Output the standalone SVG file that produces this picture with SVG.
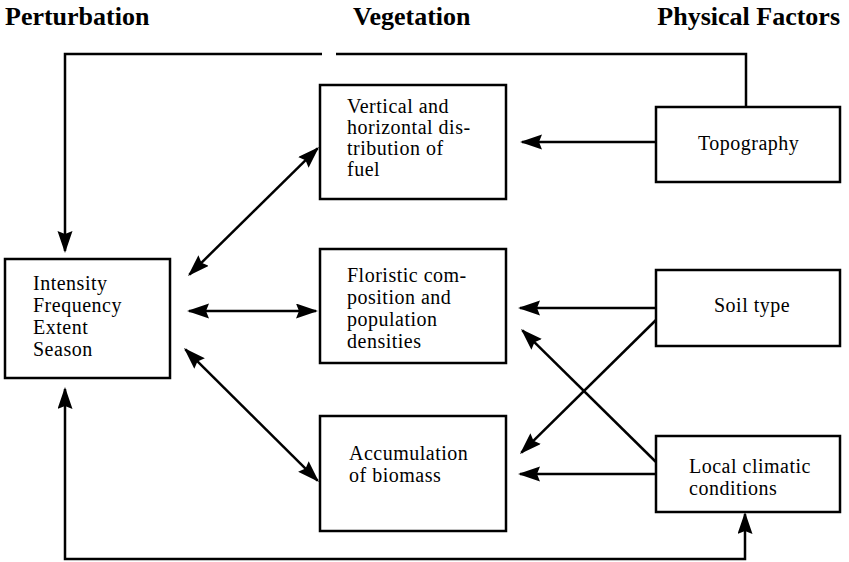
<svg xmlns="http://www.w3.org/2000/svg" width="849" height="562" viewBox="0 0 849 562">
<style>
.bg{fill:#fff}
.box{fill:#fff;stroke:#000;stroke-width:2.5}
.t{font-size:20px;letter-spacing:0.5px;fill:#000}
.h{font-size:26px;font-weight:bold;fill:#000}
.c{fill:none;stroke:#000;stroke-width:2.5}
</style>
<defs>
<marker id="ah" markerUnits="userSpaceOnUse" markerWidth="24" markerHeight="16" refX="20" refY="7.5" orient="auto-start-reverse">
<path d="M22,7.5 L0,0 L3,7.5 L0,15 z" fill="#000"/>
</marker>
</defs>
<rect class="bg" x="0" y="0" width="849" height="562"/>
<g id="titles" font-family="'Liberation Serif', 'Times New Roman', 'DejaVu Serif', serif">
<text class="h" x="5" y="25">Perturbation</text>
<text class="h" x="353" y="25">Vegetation</text>
<text class="h" x="840" y="25" text-anchor="end">Physical Factors</text>
</g>
<g id="connectors">
<path class="c" d="M746,107 V54 H336 M322,54 H65 V251" marker-end="url(#ah)"/>
<path class="c" d="M65,389 V559 H745 V514" marker-start="url(#ah)" marker-end="url(#ah)"/>
<path class="c" d="M656,142 H522" marker-end="url(#ah)"/>
<path class="c" d="M656,308 H520" marker-end="url(#ah)"/>
<path class="c" d="M656,474 H520" marker-end="url(#ah)"/>
<path class="c" d="M657,319 L521.4,452.6" marker-end="url(#ah)"/>
<path class="c" d="M656,462 L522.4,330.4" marker-end="url(#ah)"/>
<path class="c" d="M189,311 H316" marker-start="url(#ah)" marker-end="url(#ah)"/>
<path class="c" d="M189.4,274.6 L317.6,148.4" marker-start="url(#ah)" marker-end="url(#ah)"/>
<path class="c" d="M185.4,349.4 L317.6,480.6" marker-start="url(#ah)" marker-end="url(#ah)"/>
</g>
<g id="nodes" font-family="'Liberation Serif', 'Times New Roman', 'DejaVu Serif', serif">
<g id="perturbation">
<rect class="box" x="5" y="259" width="165" height="119"/>
<text class="t" x="33" y="290">Intensity</text>
<text class="t" x="33" y="312">Frequency</text>
<text class="t" x="33" y="334">Extent</text>
<text class="t" x="33" y="356">Season</text>
</g>
<g id="fuel">
<rect class="box" x="320" y="85" width="186" height="114"/>
<text class="t" x="347" y="113">Vertical and</text>
<text class="t" x="347" y="134">horizontal dis-</text>
<text class="t" x="347" y="155">tribution of</text>
<text class="t" x="347" y="176">fuel</text>
</g>
<g id="floristic">
<rect class="box" x="320" y="249" width="186" height="114"/>
<text class="t" x="347" y="282">Floristic com-</text>
<text class="t" x="347" y="304">position and</text>
<text class="t" x="347" y="326">population</text>
<text class="t" x="347" y="348">densities</text>
</g>
<g id="biomass">
<rect class="box" x="320" y="416" width="186" height="115"/>
<text class="t" x="349" y="460">Accumulation</text>
<text class="t" x="349" y="482">of biomass</text>
</g>
<g id="topography">
<rect class="box" x="656" y="107" width="184" height="75"/>
<text class="t" x="698" y="150">Topography</text>
</g>
<g id="soil">
<rect class="box" x="656" y="270" width="184" height="76"/>
<text class="t" x="714" y="312">Soil type</text>
</g>
<g id="climate">
<rect class="box" x="656" y="436" width="184" height="76"/>
<text class="t" x="689" y="473">Local climatic</text>
<text class="t" x="689" y="495">conditions</text>
</g>
</g>
</svg>
